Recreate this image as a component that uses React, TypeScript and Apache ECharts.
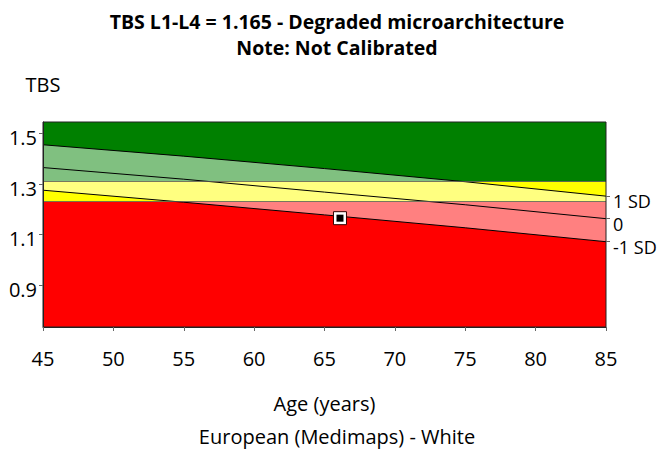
import React, { useEffect, useRef } from 'react';
import * as echarts from 'echarts';

// Reference curves (TBS vs age)
const ages = [45, 55, 65, 75, 85];
const plus1SD = [1.455, 1.41, 1.361, 1.309, 1.252];
const meanCurve = [1.365, 1.319, 1.268, 1.218, 1.163];
const minus1SD = [1.2755, 1.228, 1.178, 1.127, 1.072];

// Classification thresholds
const thresholdDegraded = 1.23;
const thresholdNormal = 1.31;

// Patient point
const patientAge = 66.1;
const patientTbs = 1.165;

// Axes
const yMin = 0.735;
const yMax = 1.545;
const xTicks = [45, 50, 55, 60, 65, 70, 75, 80, 85];
const yTicks = [0.9, 1.1, 1.3, 1.5];
const sdLabels = ['1 SD', '0', '-1 SD'];

const FONT = '"Open Sans", "Noto Sans", sans-serif';
const FS = 20;

const toPairs = (xs: number[], ys: number[]) => xs.map((x, i) => [x, ys[i]]);

export default function App() {
  const ref = useRef<HTMLDivElement>(null);

  useEffect(() => {
    document.body.style.margin = '0';
    if (!ref.current) return;
    const chart = echarts.init(ref.current, undefined, { renderer: 'svg' });
    const last = ages.length - 1;
    const sdEnds = [plus1SD[last], meanCurve[last], minus1SD[last]];

    const textEl = (text: string, y: number, bold: boolean, size: number) => ({
      type: 'text',
      x: 337,
      y,
      style: {
        text,
        font: `${bold ? 'bold ' : ''}${size}px ${FONT}`,
        fill: '#000',
        textAlign: 'center',
        textVerticalAlign: 'middle',
        align: 'center',
        verticalAlign: 'middle',
      },
    });

    const option: any = {
      animation: false,
      textStyle: { fontFamily: FONT },
      grid: {
        left: 43,
        right: 59,
        top: 122,
        bottom: 123,
        show: true,
        borderColor: '#222',
        borderWidth: 1,
        backgroundColor: 'transparent',
        z: 10,
      },
      graphic: [
        textEl(`TBS L1-L4 = ${patientTbs.toFixed(3)} - Degraded microarchitecture`, 21, true, 19.5),
        textEl('Note: Not Calibrated', 47.5, true, 19.5),
        textEl('European (Medimaps) - White', 436.4, false, FS),
      ],
      xAxis: {
        type: 'value',
        min: xTicks[0],
        max: xTicks[xTicks.length - 1],
        interval: 5,
        z: 10,
        axisLine: { show: true, lineStyle: { color: '#222' } },
        axisTick: { show: true, length: 4, lineStyle: { color: '#666' } },
        axisLabel: { color: '#000', fontSize: FS, fontFamily: FONT, margin: 21 },
        splitLine: { show: false },
        name: 'Age (years)',
        nameLocation: 'middle',
        nameGap: 66,
        nameTextStyle: { color: '#000', fontSize: FS, fontFamily: FONT },
      },
      yAxis: [
        {
          type: 'value',
          min: yMin,
          max: yMax,
          position: 'left',
          z: 10,
          axisLine: { show: true, lineStyle: { color: '#222' } },
          axisTick: { show: true, length: 4, customValues: yTicks, lineStyle: { color: '#666' } },
          axisLabel: {
            customValues: yTicks,
            color: '#000',
            fontSize: FS,
            fontFamily: FONT,
            margin: 6,
            verticalAlign: 'top',
            lineHeight: 8,
            formatter: (v: number) => v.toFixed(1),
          },
          splitLine: { show: false },
          name: 'TBS',
          nameLocation: 'end',
          nameGap: 28,
          nameTextStyle: { color: '#000', fontSize: FS, fontFamily: FONT },
        },
        {
          type: 'value',
          min: yMin,
          max: yMax,
          position: 'right',
          z: 10,
          axisLine: { show: false },
          axisTick: { show: true, length: 4, customValues: sdEnds, lineStyle: { color: '#666' } },
          axisLabel: {
            customValues: sdEnds,
            color: '#000',
            fontSize: 18,
            fontFamily: FONT,
            margin: 7,
            verticalAlign: 'top',
            lineHeight: 10,
            formatter: (v: number) => {
              let best = 0;
              sdEnds.forEach((e, i) => {
                if (Math.abs(e - v) < Math.abs(sdEnds[best] - v)) best = i;
              });
              return sdLabels[best];
            },
          },
          splitLine: { show: false },
        },
      ],
      visualMap: [
        {
          type: 'piecewise',
          show: false,
          seriesIndex: 0,
          dimension: 1,
          pieces: [
            { lt: thresholdDegraded, color: '#FF8080' },
            { gte: thresholdDegraded, lt: thresholdNormal, color: '#FFFF80' },
            { gte: thresholdNormal, color: '#80C080' },
          ],
        },
        {
          type: 'piecewise',
          show: false,
          seriesIndex: 1,
          dimension: 1,
          pieces: [
            { lt: thresholdDegraded, color: '#FF0000' },
            { gte: thresholdDegraded, lt: thresholdNormal, color: '#FFFF00' },
            { gte: thresholdNormal, color: '#008000' },
          ],
        },
      ],
      series: [
        {
          name: '+1 SD',
          type: 'line',
          data: toPairs(ages, plus1SD),
          showSymbol: false,
          symbol: 'none',
          z: 3,
          lineStyle: { color: '#000', width: 1 },
          areaStyle: { origin: 'start', opacity: 1 },
          silent: true,
        },
        {
          name: '-1 SD',
          type: 'line',
          data: toPairs(ages, minus1SD),
          showSymbol: false,
          symbol: 'none',
          z: 3,
          lineStyle: { color: '#000', width: 1 },
          areaStyle: { origin: 'start', opacity: 1 },
          silent: true,
        },
        {
          name: 'Mean',
          type: 'line',
          data: toPairs(ages, meanCurve),
          showSymbol: false,
          symbol: 'none',
          z: 4,
          lineStyle: { color: '#000', width: 1 },
          silent: true,
          markArea: {
            silent: true,
            label: { show: false },
            data: [
              [{ yAxis: yMin, itemStyle: { color: '#FF0000' } }, { yAxis: thresholdDegraded }],
              [{ yAxis: thresholdDegraded, itemStyle: { color: '#FFFF00' } }, { yAxis: thresholdNormal }],
              [{ yAxis: thresholdNormal, itemStyle: { color: '#008000' } }, { yAxis: yMax }],
            ],
          },
          markLine: {
            silent: true,
            symbol: ['none', 'none'],
            label: { show: false },
            lineStyle: { color: '#555', width: 1, type: 'solid', opacity: 0.8 },
            data: [{ yAxis: thresholdDegraded }, { yAxis: thresholdNormal }],
          },
        },
        {
          name: 'Patient',
          type: 'scatter',
          data: [[patientAge, patientTbs]],
          symbol: 'rect',
          symbolSize: 13,
          z: 6,
          itemStyle: { color: '#fff', borderColor: '#300', borderWidth: 1, opacity: 1 },
          silent: true,
        },
        {
          name: 'PatientInner',
          type: 'scatter',
          data: [[patientAge, patientTbs]],
          symbol: 'rect',
          symbolSize: 7,
          z: 7,
          itemStyle: { color: '#000', opacity: 1 },
          silent: true,
        },
      ],
    };

    chart.setOption(option);
    return () => chart.dispose();
  }, []);

  return <div ref={ref} style={{ width: 665, height: 450 }} />;
}
